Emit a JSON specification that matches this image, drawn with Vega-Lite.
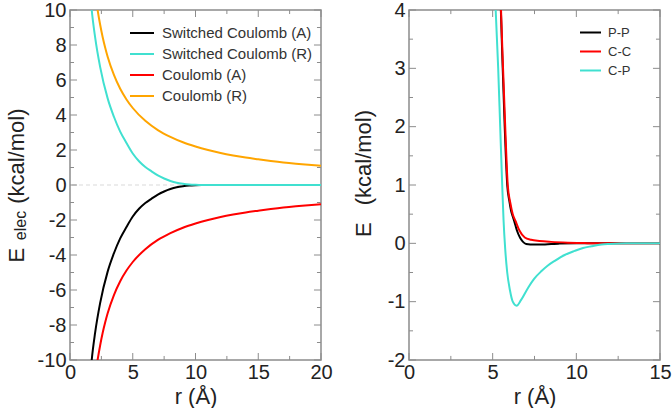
{
  "$schema": "https://vega.github.io/schema/vega-lite/v6.json",
  "padding": {"left": 4, "top": -1, "right": 2, "bottom": 0},
  "bounds": "flush",
  "spacing": 88,
  "resolve": {"scale": {"color": "independent"}},
  "datasets": {
    "lxMaj": [{"t": 0}, {"t": 5}, {"t": 10}, {"t": 15}, {"t": 20}],
    "lxMin": [{"t": 2.5}, {"t": 7.5}, {"t": 12.5}, {"t": 17.5}],
    "lyMaj": [{"t": -10}, {"t": -8}, {"t": -6}, {"t": -4}, {"t": -2}, {"t": 0}, {"t": 2}, {"t": 4}, {"t": 6}, {"t": 8}, {"t": 10}],
    "lyMin": [{"t": -9}, {"t": -7}, {"t": -5}, {"t": -3}, {"t": -1}, {"t": 1}, {"t": 3}, {"t": 5}, {"t": 7}, {"t": 9}],
    "rxMaj": [{"t": 0}, {"t": 5}, {"t": 10}, {"t": 15}],
    "rxMin": [{"t": 2.5}, {"t": 7.5}, {"t": 12.5}],
    "ryMaj": [{"t": -2}, {"t": -1}, {"t": 0}, {"t": 1}, {"t": 2}, {"t": 3}, {"t": 4}],
    "ryMin": [{"t": -1.5}, {"t": -0.5}, {"t": 0.5}, {"t": 1.5}, {"t": 2.5}, {"t": 3.5}]
  },
  "config": {
    "view": {"stroke": "#8c8c8c", "strokeWidth": 1.5},
    "axis": {
      "labelFont": "Liberation Sans", "titleFont": "Liberation Sans",
      "labelFontSize": 20, "titleFontSize": 22, "titleFontWeight": "normal",
      "labelColor": "#222222", "titleColor": "#222222",
      "domain": false, "ticks": false, "grid": false,
      "labelOverlap": false, "labelFlush": false
    },
    "rule": {"color": "#8c8c8c", "strokeWidth": 1},
    "legend": {"labelFont": "Liberation Sans"}
  },
  "hconcat": [
    {
      "width": 251,
      "height": 350,
      "data": {"values": [
        {"r": 1.5, "E": -12.0, "s": "Switched Coulomb (A)"},
        {"r": 1.73, "E": -10.0, "s": "Switched Coulomb (A)"},
        {"r": 2.0, "E": -8.45, "s": "Switched Coulomb (A)"},
        {"r": 2.4, "E": -6.75, "s": "Switched Coulomb (A)"},
        {"r": 3.0, "E": -4.95, "s": "Switched Coulomb (A)"},
        {"r": 3.5, "E": -3.9, "s": "Switched Coulomb (A)"},
        {"r": 4.0, "E": -3.05, "s": "Switched Coulomb (A)"},
        {"r": 4.5, "E": -2.4, "s": "Switched Coulomb (A)"},
        {"r": 5.0, "E": -1.8, "s": "Switched Coulomb (A)"},
        {"r": 5.5, "E": -1.36, "s": "Switched Coulomb (A)"},
        {"r": 6.0, "E": -1.03, "s": "Switched Coulomb (A)"},
        {"r": 6.5, "E": -0.78, "s": "Switched Coulomb (A)"},
        {"r": 7.0, "E": -0.55, "s": "Switched Coulomb (A)"},
        {"r": 7.5, "E": -0.37, "s": "Switched Coulomb (A)"},
        {"r": 8.0, "E": -0.23, "s": "Switched Coulomb (A)"},
        {"r": 8.5, "E": -0.13, "s": "Switched Coulomb (A)"},
        {"r": 9.0, "E": -0.07, "s": "Switched Coulomb (A)"},
        {"r": 9.5, "E": -0.03, "s": "Switched Coulomb (A)"},
        {"r": 10.0, "E": -0.01, "s": "Switched Coulomb (A)"},
        {"r": 10.5, "E": 0, "s": "Switched Coulomb (A)"},
        {"r": 12, "E": 0, "s": "Switched Coulomb (A)"},
        {"r": 15, "E": 0, "s": "Switched Coulomb (A)"},
        {"r": 20, "E": 0, "s": "Switched Coulomb (A)"},
        {"r": 1.5, "E": 12.0, "s": "Switched Coulomb (R)"},
        {"r": 1.73, "E": 10.0, "s": "Switched Coulomb (R)"},
        {"r": 2.0, "E": 8.45, "s": "Switched Coulomb (R)"},
        {"r": 2.4, "E": 6.75, "s": "Switched Coulomb (R)"},
        {"r": 3.0, "E": 4.95, "s": "Switched Coulomb (R)"},
        {"r": 3.5, "E": 3.9, "s": "Switched Coulomb (R)"},
        {"r": 4.0, "E": 3.05, "s": "Switched Coulomb (R)"},
        {"r": 4.5, "E": 2.4, "s": "Switched Coulomb (R)"},
        {"r": 5.0, "E": 1.8, "s": "Switched Coulomb (R)"},
        {"r": 5.5, "E": 1.36, "s": "Switched Coulomb (R)"},
        {"r": 6.0, "E": 1.03, "s": "Switched Coulomb (R)"},
        {"r": 6.5, "E": 0.78, "s": "Switched Coulomb (R)"},
        {"r": 7.0, "E": 0.55, "s": "Switched Coulomb (R)"},
        {"r": 7.5, "E": 0.37, "s": "Switched Coulomb (R)"},
        {"r": 8.0, "E": 0.23, "s": "Switched Coulomb (R)"},
        {"r": 8.5, "E": 0.13, "s": "Switched Coulomb (R)"},
        {"r": 9.0, "E": 0.07, "s": "Switched Coulomb (R)"},
        {"r": 9.5, "E": 0.03, "s": "Switched Coulomb (R)"},
        {"r": 10.0, "E": 0.01, "s": "Switched Coulomb (R)"},
        {"r": 10.5, "E": 0, "s": "Switched Coulomb (R)"},
        {"r": 12, "E": 0, "s": "Switched Coulomb (R)"},
        {"r": 15, "E": 0, "s": "Switched Coulomb (R)"},
        {"r": 20, "E": 0, "s": "Switched Coulomb (R)"},
        {"r": 2.0, "E": -11.0, "s": "Coulomb (A)"},
        {"r": 2.2, "E": -10.0, "s": "Coulomb (A)"},
        {"r": 2.4, "E": -9.17, "s": "Coulomb (A)"},
        {"r": 2.6, "E": -8.46, "s": "Coulomb (A)"},
        {"r": 2.8, "E": -7.86, "s": "Coulomb (A)"},
        {"r": 3.0, "E": -7.33, "s": "Coulomb (A)"},
        {"r": 3.5, "E": -6.29, "s": "Coulomb (A)"},
        {"r": 4.0, "E": -5.5, "s": "Coulomb (A)"},
        {"r": 4.5, "E": -4.89, "s": "Coulomb (A)"},
        {"r": 5.0, "E": -4.4, "s": "Coulomb (A)"},
        {"r": 6.0, "E": -3.67, "s": "Coulomb (A)"},
        {"r": 7.0, "E": -3.14, "s": "Coulomb (A)"},
        {"r": 8.0, "E": -2.75, "s": "Coulomb (A)"},
        {"r": 9.0, "E": -2.44, "s": "Coulomb (A)"},
        {"r": 10.0, "E": -2.2, "s": "Coulomb (A)"},
        {"r": 11.0, "E": -2.0, "s": "Coulomb (A)"},
        {"r": 12.0, "E": -1.83, "s": "Coulomb (A)"},
        {"r": 13.0, "E": -1.69, "s": "Coulomb (A)"},
        {"r": 14.0, "E": -1.57, "s": "Coulomb (A)"},
        {"r": 15.0, "E": -1.47, "s": "Coulomb (A)"},
        {"r": 16.0, "E": -1.375, "s": "Coulomb (A)"},
        {"r": 17.0, "E": -1.29, "s": "Coulomb (A)"},
        {"r": 18.0, "E": -1.22, "s": "Coulomb (A)"},
        {"r": 19.0, "E": -1.16, "s": "Coulomb (A)"},
        {"r": 20.0, "E": -1.1, "s": "Coulomb (A)"},
        {"r": 2.0, "E": 11.0, "s": "Coulomb (R)"},
        {"r": 2.2, "E": 10.0, "s": "Coulomb (R)"},
        {"r": 2.4, "E": 9.17, "s": "Coulomb (R)"},
        {"r": 2.6, "E": 8.46, "s": "Coulomb (R)"},
        {"r": 2.8, "E": 7.86, "s": "Coulomb (R)"},
        {"r": 3.0, "E": 7.33, "s": "Coulomb (R)"},
        {"r": 3.5, "E": 6.29, "s": "Coulomb (R)"},
        {"r": 4.0, "E": 5.5, "s": "Coulomb (R)"},
        {"r": 4.5, "E": 4.89, "s": "Coulomb (R)"},
        {"r": 5.0, "E": 4.4, "s": "Coulomb (R)"},
        {"r": 6.0, "E": 3.67, "s": "Coulomb (R)"},
        {"r": 7.0, "E": 3.14, "s": "Coulomb (R)"},
        {"r": 8.0, "E": 2.75, "s": "Coulomb (R)"},
        {"r": 9.0, "E": 2.44, "s": "Coulomb (R)"},
        {"r": 10.0, "E": 2.2, "s": "Coulomb (R)"},
        {"r": 11.0, "E": 2.0, "s": "Coulomb (R)"},
        {"r": 12.0, "E": 1.83, "s": "Coulomb (R)"},
        {"r": 13.0, "E": 1.69, "s": "Coulomb (R)"},
        {"r": 14.0, "E": 1.57, "s": "Coulomb (R)"},
        {"r": 15.0, "E": 1.47, "s": "Coulomb (R)"},
        {"r": 16.0, "E": 1.375, "s": "Coulomb (R)"},
        {"r": 17.0, "E": 1.29, "s": "Coulomb (R)"},
        {"r": 18.0, "E": 1.22, "s": "Coulomb (R)"},
        {"r": 19.0, "E": 1.16, "s": "Coulomb (R)"},
        {"r": 20.0, "E": 1.1, "s": "Coulomb (R)"}
      ]},
      "resolve": {"axis": {"x": "independent", "y": "independent"}},
      "layer": [
        {
          "data": {"values": [{"z": 0}]},
          "mark": {"type": "rule", "color": "#d9d9d9", "strokeDash": [4, 3], "strokeWidth": 1},
          "encoding": {"y": {"field": "z", "type": "quantitative", "axis": null}}
        },
        {"data": {"name": "lxMaj"}, "mark": "rule", "encoding": {"x": {"field": "t", "type": "quantitative", "axis": null}, "y": {"datum": -10, "type": "quantitative", "axis": null}, "y2": {"datum": -9.6}}},
        {"data": {"name": "lxMin"}, "mark": "rule", "encoding": {"x": {"field": "t", "type": "quantitative", "axis": null}, "y": {"datum": -10, "type": "quantitative", "axis": null}, "y2": {"datum": -9.77}}},
        {"data": {"name": "lxMaj"}, "mark": "rule", "encoding": {"x": {"field": "t", "type": "quantitative", "axis": null}, "y": {"datum": 10, "type": "quantitative", "axis": null}, "y2": {"datum": 9.6}}},
        {"data": {"name": "lxMin"}, "mark": "rule", "encoding": {"x": {"field": "t", "type": "quantitative", "axis": null}, "y": {"datum": 10, "type": "quantitative", "axis": null}, "y2": {"datum": 9.77}}},
        {"data": {"name": "lyMaj"}, "mark": "rule", "encoding": {"y": {"field": "t", "type": "quantitative", "axis": null}, "x": {"datum": 0, "type": "quantitative", "axis": null}, "x2": {"datum": 0.56}}},
        {"data": {"name": "lyMin"}, "mark": "rule", "encoding": {"y": {"field": "t", "type": "quantitative", "axis": null}, "x": {"datum": 0, "type": "quantitative", "axis": null}, "x2": {"datum": 0.32}}},
        {"data": {"name": "lyMaj"}, "mark": "rule", "encoding": {"y": {"field": "t", "type": "quantitative", "axis": null}, "x": {"datum": 20, "type": "quantitative", "axis": null}, "x2": {"datum": 19.44}}},
        {"data": {"name": "lyMin"}, "mark": "rule", "encoding": {"y": {"field": "t", "type": "quantitative", "axis": null}, "x": {"datum": 20, "type": "quantitative", "axis": null}, "x2": {"datum": 19.68}}},
        {
          "mark": {"type": "line", "strokeWidth": 2, "clip": true, "interpolate": "monotone"},
          "encoding": {
            "x": {"field": "r", "type": "quantitative", "scale": {"domain": [0, 20], "nice": false, "zero": false},
              "axis": {"orient": "bottom", "values": [0, 5, 10, 15, 20], "labelExpr": "datum.value + ''", "labelPadding": 2, "title": "r (Å)", "titlePadding": 4}},
            "y": {"field": "E", "type": "quantitative", "scale": {"domain": [-10, 10], "nice": false, "zero": false},
              "axis": {"orient": "left", "values": [-10, -8, -6, -4, -2, 0, 2, 4, 6, 8, 10], "labelExpr": "datum.value + ''", "labelPadding": 4, "title": "E\u2003\u2003(kcal/mol)", "titlePadding": 4, "minExtent": 38, "maxExtent": 38}},
            "color": {"field": "s", "type": "nominal",
              "scale": {"domain": ["Switched Coulomb (A)", "Switched Coulomb (R)", "Coulomb (A)", "Coulomb (R)"], "range": ["#000000", "#40e0d0", "#ff0000", "#ffa500"]},
              "legend": {"orient": "none", "legendX": 59, "legendY": 10, "title": null, "symbolType": "stroke", "symbolSize": 576, "symbolStrokeWidth": 2, "labelFontSize": 15, "labelColor": "#333333", "labelOffset": 7, "rowPadding": 0, "padding": 0}}
          }
        },
        {
          "mark": {"type": "line", "opacity": 0, "clip": true},
          "encoding": {
            "x": {"field": "r", "type": "quantitative", "axis": null},
            "y": {"field": "E", "type": "quantitative", "axis": {"orient": "left", "labels": false, "title": "elec", "titleFontSize": 16, "titleY": 215, "titlePadding": 4, "minExtent": 38, "maxExtent": 38}}
          }
        }
      ]
    },
    {
      "width": 251,
      "height": 350,
      "data": {"values": [
        {"r": 5.3, "E": 6.5, "s": "P-P"},
        {"r": 5.49, "E": 4.0, "s": "P-P"},
        {"r": 5.6, "E": 3.0, "s": "P-P"},
        {"r": 5.72, "E": 2.0, "s": "P-P"},
        {"r": 5.87, "E": 1.0, "s": "P-P"},
        {"r": 6.0, "E": 0.72, "s": "P-P"},
        {"r": 6.1, "E": 0.56, "s": "P-P"},
        {"r": 6.2, "E": 0.46, "s": "P-P"},
        {"r": 6.29, "E": 0.38, "s": "P-P"},
        {"r": 6.45, "E": 0.22, "s": "P-P"},
        {"r": 6.63, "E": 0.1, "s": "P-P"},
        {"r": 6.8, "E": 0.03, "s": "P-P"},
        {"r": 7.0, "E": -0.01, "s": "P-P"},
        {"r": 7.5, "E": -0.02, "s": "P-P"},
        {"r": 8.0, "E": -0.02, "s": "P-P"},
        {"r": 8.5, "E": -0.01, "s": "P-P"},
        {"r": 9.0, "E": -0.005, "s": "P-P"},
        {"r": 10.0, "E": 0, "s": "P-P"},
        {"r": 15.0, "E": 0, "s": "P-P"},
        {"r": 5.3, "E": 6.6, "s": "C-C"},
        {"r": 5.5, "E": 4.0, "s": "C-C"},
        {"r": 5.62, "E": 3.0, "s": "C-C"},
        {"r": 5.75, "E": 2.0, "s": "C-C"},
        {"r": 5.9, "E": 1.0, "s": "C-C"},
        {"r": 6.05, "E": 0.7, "s": "C-C"},
        {"r": 6.2, "E": 0.5, "s": "C-C"},
        {"r": 6.37, "E": 0.38, "s": "C-C"},
        {"r": 6.6, "E": 0.22, "s": "C-C"},
        {"r": 6.92, "E": 0.1, "s": "C-C"},
        {"r": 7.3, "E": 0.06, "s": "C-C"},
        {"r": 7.8, "E": 0.04, "s": "C-C"},
        {"r": 8.5, "E": 0.025, "s": "C-C"},
        {"r": 9.5, "E": 0.012, "s": "C-C"},
        {"r": 10.5, "E": 0.004, "s": "C-C"},
        {"r": 11.0, "E": 0, "s": "C-C"},
        {"r": 15.0, "E": 0, "s": "C-C"},
        {"r": 5.0, "E": 5.5, "s": "C-P"},
        {"r": 5.18, "E": 4.0, "s": "C-P"},
        {"r": 5.33, "E": 3.0, "s": "C-P"},
        {"r": 5.45, "E": 2.0, "s": "C-P"},
        {"r": 5.57, "E": 1.0, "s": "C-P"},
        {"r": 5.65, "E": 0.4, "s": "C-P"},
        {"r": 5.75, "E": -0.1, "s": "C-P"},
        {"r": 5.87, "E": -0.5, "s": "C-P"},
        {"r": 6.03, "E": -0.8, "s": "C-P"},
        {"r": 6.2, "E": -1.0, "s": "C-P"},
        {"r": 6.43, "E": -1.07, "s": "C-P"},
        {"r": 6.7, "E": -0.97, "s": "C-P"},
        {"r": 7.12, "E": -0.76, "s": "C-P"},
        {"r": 7.5, "E": -0.6, "s": "C-P"},
        {"r": 7.92, "E": -0.475, "s": "C-P"},
        {"r": 8.3, "E": -0.38, "s": "C-P"},
        {"r": 8.71, "E": -0.3, "s": "C-P"},
        {"r": 9.3, "E": -0.2, "s": "C-P"},
        {"r": 9.9, "E": -0.13, "s": "C-P"},
        {"r": 10.4, "E": -0.08, "s": "C-P"},
        {"r": 10.9, "E": -0.05, "s": "C-P"},
        {"r": 11.5, "E": -0.02, "s": "C-P"},
        {"r": 12.0, "E": -0.01, "s": "C-P"},
        {"r": 13.0, "E": 0, "s": "C-P"},
        {"r": 15.0, "E": 0, "s": "C-P"}
      ]},
      "resolve": {"axis": {"x": "independent", "y": "independent"}},
      "layer": [
        {"data": {"name": "rxMaj"}, "mark": "rule", "encoding": {"x": {"field": "t", "type": "quantitative", "axis": null}, "y": {"datum": -2, "type": "quantitative", "axis": null}, "y2": {"datum": -1.88}}},
        {"data": {"name": "rxMin"}, "mark": "rule", "encoding": {"x": {"field": "t", "type": "quantitative", "axis": null}, "y": {"datum": -2, "type": "quantitative", "axis": null}, "y2": {"datum": -1.93}}},
        {"data": {"name": "rxMaj"}, "mark": "rule", "encoding": {"x": {"field": "t", "type": "quantitative", "axis": null}, "y": {"datum": 4, "type": "quantitative", "axis": null}, "y2": {"datum": 3.88}}},
        {"data": {"name": "rxMin"}, "mark": "rule", "encoding": {"x": {"field": "t", "type": "quantitative", "axis": null}, "y": {"datum": 4, "type": "quantitative", "axis": null}, "y2": {"datum": 3.93}}},
        {"data": {"name": "ryMaj"}, "mark": "rule", "encoding": {"y": {"field": "t", "type": "quantitative", "axis": null}, "x": {"datum": 0, "type": "quantitative", "axis": null}, "x2": {"datum": 0.42}}},
        {"data": {"name": "ryMin"}, "mark": "rule", "encoding": {"y": {"field": "t", "type": "quantitative", "axis": null}, "x": {"datum": 0, "type": "quantitative", "axis": null}, "x2": {"datum": 0.24}}},
        {"data": {"name": "ryMaj"}, "mark": "rule", "encoding": {"y": {"field": "t", "type": "quantitative", "axis": null}, "x": {"datum": 15, "type": "quantitative", "axis": null}, "x2": {"datum": 14.58}}},
        {"data": {"name": "ryMin"}, "mark": "rule", "encoding": {"y": {"field": "t", "type": "quantitative", "axis": null}, "x": {"datum": 15, "type": "quantitative", "axis": null}, "x2": {"datum": 14.76}}},
        {
          "mark": {"type": "line", "strokeWidth": 2, "clip": true, "interpolate": "monotone"},
          "encoding": {
            "x": {"field": "r", "type": "quantitative", "scale": {"domain": [0, 15], "nice": false, "zero": false},
              "axis": {"orient": "bottom", "values": [0, 5, 10, 15], "labelExpr": "datum.value + ''", "labelPadding": 2, "title": "r (Å)", "titlePadding": 4}},
            "y": {"field": "E", "type": "quantitative", "scale": {"domain": [-2, 4], "nice": false, "zero": false},
              "axis": {"orient": "left", "values": [-2, -1, 0, 1, 2, 3, 4], "labelExpr": "datum.value + ''", "labelPadding": 4, "title": "E\u2002 (kcal/mol)", "titleY": 163, "titlePadding": 4, "minExtent": 30, "maxExtent": 30}},
            "color": {"field": "s", "type": "nominal",
              "scale": {"domain": ["P-P", "C-C", "C-P"], "range": ["#000000", "#ff0000", "#40e0d0"]},
              "legend": {"orient": "none", "legendX": 170, "legendY": 11, "title": null, "symbolType": "stroke", "symbolSize": 441, "symbolStrokeWidth": 2, "labelFontSize": 13, "labelColor": "#333333", "labelOffset": 6, "rowPadding": 0, "padding": 0}}
          }
        }
      ]
    }
  ]
}
